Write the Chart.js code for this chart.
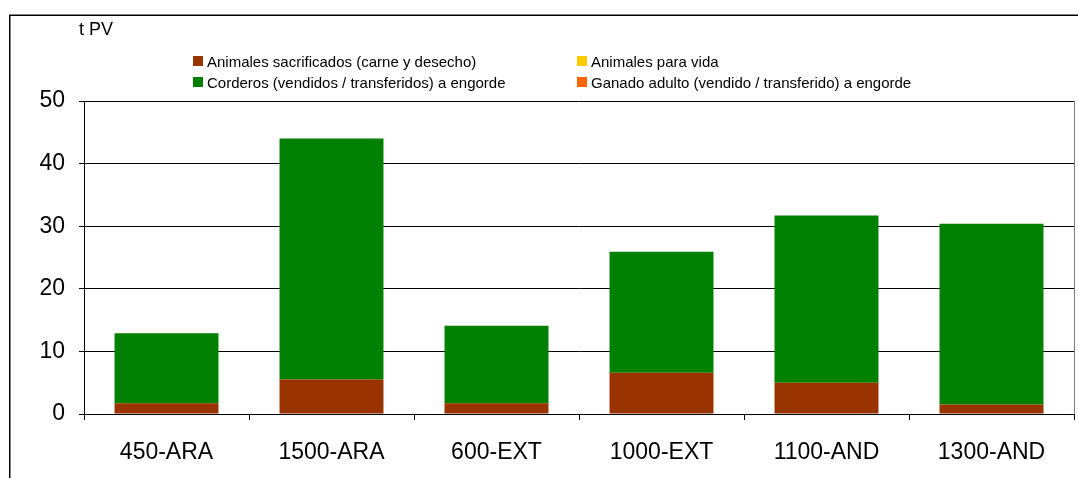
<!DOCTYPE html>
<html>
<head>
<meta charset="utf-8">
<script src="https://cdn.jsdelivr.net/npm/chart.js@4/dist/chart.umd.min.js"></script>
<style>
  html, body { margin: 0; padding: 0; background: #fff; }
  #wrap { width: 1078px; height: 478px; position: relative; }
</style>
</head>
<body>
<div id="wrap"><canvas id="myChart"></canvas></div>
<script>
// Data (t PV)
const categories = ['450-ARA', '1500-ARA', '600-EXT', '1000-EXT', '1100-AND', '1300-AND'];
const sacrificados = [1.7, 5.5, 1.7, 6.6, 5.0, 1.5];
const paraVida = [0, 0, 0, 0, 0, 0];
const corderos = [11.2, 38.5, 12.4, 19.3, 26.7, 28.9];
const ganadoAdulto = [0, 0, 0, 0, 0, 0];
const yTicks = [0, 10, 20, 30, 40, 50];

const FONT = "'Liberation Sans', Arial, sans-serif";

// draws the outer frame, the unit label and the 2x2 legend
const framePlugin = {
    id: 'frame',
    beforeDraw(chart) {
        const ctx = chart.ctx;
        ctx.save();
        ctx.fillStyle = '#fff';
        ctx.fillRect(0, 0, chart.width, chart.height);
        ctx.restore();
    },
    afterDraw(chart) {
        const ctx = chart.ctx;
        const a = chart.chartArea;
        ctx.save();
        // outer border
        ctx.strokeStyle = '#000';
        ctx.lineWidth = 1.5;
        ctx.strokeRect(9.75, 15.25, 1300, 800);
        // right edge of the plot area
        ctx.strokeStyle = '#808080';
        ctx.lineWidth = 1;
        ctx.beginPath();
        ctx.moveTo(Math.round(a.right) + 0.5, a.top);
        ctx.lineTo(Math.round(a.right) + 0.5, a.bottom);
        ctx.stroke();
        // unit
        ctx.fillStyle = '#000';
        ctx.font = '18px ' + FONT;
        ctx.textBaseline = 'alphabetic';
        ctx.textAlign = 'left';
        ctx.fillText('t PV', 79, 35);
        // legend
        ctx.font = '15px ' + FONT;
        const colX = [193, 577];
        const rowY = [56, 77];
        chart.data.datasets.forEach((ds, i) => {
            const x = colX[i % 2];
            const y = rowY[Math.floor(i / 2)];
            ctx.fillStyle = ds.backgroundColor;
            ctx.fillRect(x, y, 10, 10);
            ctx.fillStyle = '#000';
            ctx.fillText(ds.label, x + 14, y + 10.5);
        });
        ctx.restore();
    }
};

const ctx = document.getElementById('myChart');

new Chart(ctx, {
    type: 'bar',
    data: {
        labels: categories,
        datasets: [
            { label: 'Animales sacrificados (carne y desecho)', data: sacrificados, backgroundColor: '#993300' },
            { label: 'Animales para vida', data: paraVida, backgroundColor: '#FFCC00' },
            { label: 'Corderos (vendidos / transferidos) a engorde', data: corderos, backgroundColor: '#008000' },
            { label: 'Ganado adulto (vendido / transferido) a engorde', data: ganadoAdulto, backgroundColor: '#FF6600' }
        ]
    },
    options: {
        responsive: true,
        maintainAspectRatio: false,
        animation: false,
        layout: { padding: { top: 101, right: 4, bottom: 0, left: 0 } },
        datasets: {
            bar: { barPercentage: 0.63, categoryPercentage: 1, borderWidth: 0 }
        },
        plugins: {
            legend: { display: false },
            tooltip: { enabled: false }
        },
        scales: {
            x: {
                stacked: true,
                afterFit(scale) { scale.height = 64; },
                grid: { display: true, drawOnChartArea: false, drawTicks: true, tickLength: 6, color: '#000', offset: true },
                border: { display: true, color: '#000', width: 1 },
                ticks: { color: '#000', padding: 19, font: { family: FONT, size: 23 } }
            },
            y: {
                stacked: true,
                min: 0,
                max: 50,
                afterFit(scale) { scale.width = 84; },
                afterBuildTicks(scale) { scale.ticks = yTicks.map(v => ({ value: v })); },
                grid: { color: '#000', lineWidth: 1, tickLength: 5 },
                border: { display: true, color: '#000', width: 1 },
                ticks: { color: '#000', padding: 14, font: { family: FONT, size: 23 } }
            }
        }
    },
    plugins: [framePlugin]
});
</script>
</body>
</html>
